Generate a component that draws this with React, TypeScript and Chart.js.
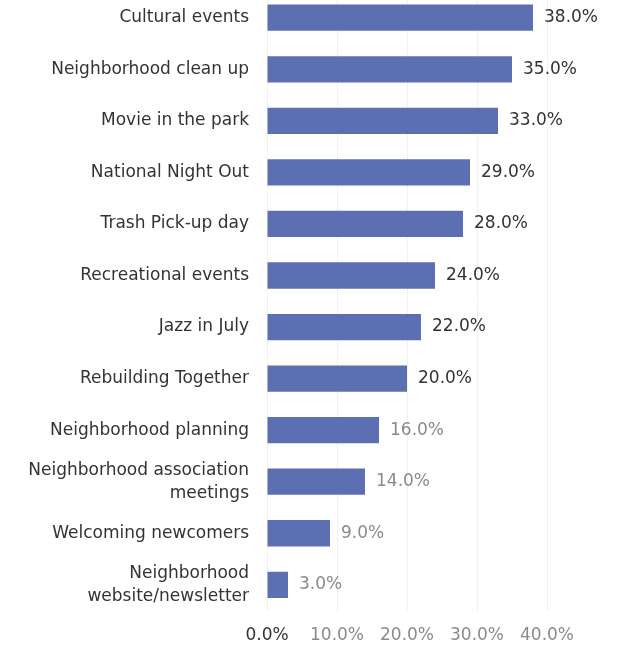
import React, { useEffect, useRef } from "react";
import { Chart, registerables } from "chart.js";

Chart.register(...registerables);

const categories: (string | string[])[] = [
  "Cultural events",
  "Neighborhood clean up",
  "Movie in the park",
  "National Night Out",
  "Trash Pick-up day",
  "Recreational events",
  "Jazz in July",
  "Rebuilding Together",
  "Neighborhood planning",
  ["Neighborhood association", "meetings"],
  "Welcoming newcomers",
  ["Neighborhood", "website/newsletter"],
];

const values: number[] = [38, 35, 33, 29, 28, 24, 22, 20, 16, 14, 9, 3];

const xTicks: number[] = [0, 10, 20, 30, 40];

const FONT = "'DejaVu Sans', sans-serif";

const valueLabels = {
  id: "valueLabels",
  afterDatasetsDraw(chart: any) {
    const ctx = chart.ctx;
    const meta = chart.getDatasetMeta(0);
    ctx.save();
    ctx.font = `17px ${FONT}`;
    ctx.textBaseline = "middle";
    ctx.textAlign = "left";
    meta.data.forEach((bar: any, i: number) => {
      ctx.fillStyle = i < 8 ? "#333333" : "#8a8a8a";
      ctx.fillText(values[i].toFixed(1) + "%", bar.x + 11, bar.y);
    });
    ctx.restore();
  },
};

export default function App() {
  const ref = useRef<HTMLCanvasElement | null>(null);
  useEffect(() => {
    if (!ref.current) return;
    const chart = new Chart(ref.current, {
      type: "bar",
      data: {
        labels: categories,
        datasets: [
          {
            data: values,
            backgroundColor: "#5c6fb2",
            borderWidth: 0,
            barPercentage: 0.51,
            categoryPercentage: 1,
          },
        ],
      },
      options: {
        indexAxis: "y",
        animation: false,
        responsive: false,
        maintainAspectRatio: false,
        layout: { padding: { top: 22, right: 70, bottom: 6, left: 0 } },
        plugins: {
          legend: { display: false },
          tooltip: { enabled: false },
        },
        scales: {
          x: {
            min: 0,
            max: 40,
            afterBuildTicks: (scale: any) => {
              scale.ticks = xTicks.map((v) => ({ value: v }));
            },
            border: { display: false },
            grid: { color: "#f1f1f1", drawTicks: false },
            ticks: {
              padding: 15,
              font: { family: FONT, size: 17 },
              color: (c: any) => (c.index === 0 ? "#333333" : "#8a8a8a"),
              callback: (v: any) => Number(v).toFixed(1) + "%",
            },
          },
          y: {
            border: { display: false },
            grid: { display: false, drawTicks: false },
            afterFit: (scale: any) => {
              scale.width = 267;
            },
            ticks: {
              padding: 18,
              font: { family: FONT, size: 17, lineHeight: 1.35 },
              color: "#333333",
              autoSkip: false,
            },
          },
        },
      },
      plugins: [valueLabels],
    });
    return () => chart.destroy();
  }, []);
  return (
    <div
      style={{
        position: "fixed",
        left: 0,
        top: 0,
        width: 617,
        height: 650,
        overflow: "hidden",
        background: "#ffffff",
      }}
    >
      <canvas
        ref={ref}
        width={617}
        height={716}
        style={{ position: "absolute", left: 0, top: -49, width: 617, height: 716 }}
      />
    </div>
  );
}
